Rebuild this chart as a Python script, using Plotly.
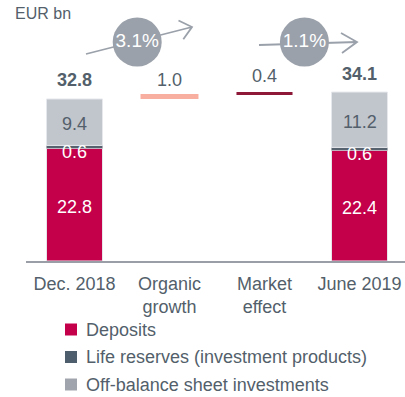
import plotly.graph_objects as go

# Savings volumes, EUR bn
categories = ["Dec. 2018", "Organic<br>growth", "Market<br>effect", "June 2019"]
deposits = [22.8, None, None, 22.4]
life_reserves = [0.6, None, None, 0.6]
off_balance = [9.4, None, None, 11.2]
totals = [32.8, None, None, 34.1]
organic_growth = 1.0
market_effect = 0.4
growth_rates = ["3.1%", "1.1%"]
legend_names = ["Deposits", "Life reserves (investment products)", "Off-balance sheet investments"]

C_DEP = "#C4004A"
C_LIFE = "#56626E"
C_OFF = "#C1C5CC"
C_ORG = "#F9AF9F"
C_MKT = "#8E1838"
C_TXT = "#535F6B"
C_CIRCLE = "#9BA1AA"
FONT = "Liberation Sans, Arial, sans-serif"

W, H = 405, 397
ML, MR, MT, MB = 26, 0, 40, 136
PW, PH = W - ML - MR, H - MT - MB
BASE_Y = MT + PH
PX_PER_UNIT = 4.94
X_RANGE = [-0.5105, 3.479]


def px(x):
    return (x - ML) / PW


def py(y):
    return (BASE_Y - y) / PH


stack_idx = [0, 3]
xs = [categories[i] for i in stack_idx]
dep = [deposits[i] for i in stack_idx]
life = [life_reserves[i] for i in stack_idx]
off = [off_balance[i] for i in stack_idx]
life_base = dep
off_base = [d + l for d, l in zip(dep, life)]

bw = 0.59
line = dict(color="#E6E8EC", width=1)
fig = go.Figure()
fig.add_trace(go.Bar(x=xs, y=dep, base=[0, 0], marker=dict(color=C_DEP, line=line), width=bw,
                     name=legend_names[0], showlegend=False))
fig.add_trace(go.Bar(x=xs, y=life, base=life_base, marker=dict(color=C_LIFE, line=dict(width=0)), width=bw,
                     name=legend_names[1], showlegend=False))
fig.add_trace(go.Bar(x=xs, y=off, base=off_base, marker=dict(color=C_OFF, line=line), width=bw,
                     name=legend_names[2], showlegend=False))

org_base = totals[0]
mkt_base = totals[0] + organic_growth
fig.add_trace(go.Bar(x=[categories[1]], y=[organic_growth], base=[org_base], width=0.61,
                     marker=dict(color=C_ORG, line=dict(width=0)), showlegend=False))
fig.add_trace(go.Bar(x=[categories[2]], y=[market_effect], base=[mkt_base], width=0.59,
                     marker=dict(color=C_MKT, line=dict(width=0)), showlegend=False))

# growth-rate bubbles, drawn over the arrows
bubble_x = [0.66, 2.42]
bubble_y = (BASE_Y - 42) / PX_PER_UNIT
fig.add_trace(go.Scatter(
    x=bubble_x, y=[bubble_y] * 2, xaxis="x2", mode="markers+text", text=growth_rates,
    textposition="middle center", cliponaxis=False, showlegend=False, hoverinfo="skip",
    marker=dict(size=49, color=C_CIRCLE, line=dict(width=0)),
    textfont=dict(size=19, family=FONT, color="white"),
))

ann = []
lab = dict(size=18, family=FONT)
for k, i in enumerate(stack_idx):
    c = categories[i]
    ann.append(dict(x=c, y=dep[k] / 2, text=f"{dep[k]:.1f}", showarrow=False,
                    font=dict(color="white", **lab), yshift=-2))
    ann.append(dict(x=c, y=life_base[k] + life[k] / 2, text=f"{life[k]:.1f}", showarrow=False,
                    font=dict(color="white", **lab), yshift=-5))
    ann.append(dict(x=c, y=off_base[k] + off[k] / 2, text=f"{off[k]:.1f}", showarrow=False,
                    font=dict(color=C_TXT, **lab), yshift=-2))
    ann.append(dict(x=c, y=totals[i], text=f"<b>{totals[i]:.1f}</b>", showarrow=False,
                    font=dict(color=C_TXT, **lab), yshift=19))
ann.append(dict(x=categories[1], y=org_base + organic_growth, text=f"{organic_growth:.1f}",
                showarrow=False, font=dict(color=C_TXT, **lab), yshift=14))
ann.append(dict(x=categories[2], y=mkt_base + market_effect, text=f"{market_effect:.1f}",
                showarrow=False, font=dict(color=C_TXT, **lab), yshift=16))

# unit label
ann.append(dict(xref="paper", yref="paper", x=px(13), y=py(14), xanchor="left", yanchor="middle",
                text="EUR bn", showarrow=False, font=dict(size=16, family=FONT, color=C_TXT)))

shapes = []
# growth arrows
arrow_line = dict(color=C_CIRCLE, width=1.8)
for (tail, tip, a1, a2) in [((86, 54), (192, 27), (178.5, 20.5), (183.3, 39.2)),
                            ((259, 45), (357, 42), (341, 33), (342, 53))]:
    path = (f"M{px(tail[0])},{py(tail[1])} L{px(tip[0])},{py(tip[1])} "
            f"M{px(a1[0])},{py(a1[1])} L{px(tip[0])},{py(tip[1])} L{px(a2[0])},{py(a2[1])}")
    shapes.append(dict(type="path", xref="paper", yref="paper", path=path, line=arrow_line,
                       fillcolor="rgba(0,0,0,0)", layer="below"))

# legend
leg_colors = [C_DEP, "#4F5E6C", "#A0A5AD"]
for k, (name, col) in enumerate(zip(legend_names, leg_colors)):
    yc = 329.5 + 27.5 * k
    shapes.append(dict(type="rect", xref="paper", yref="paper",
                       x0=px(65), x1=px(77), y0=py(yc + 6), y1=py(yc - 6),
                       fillcolor=col, line=dict(width=0)))
    ann.append(dict(xref="paper", yref="paper", x=px(84), y=py(yc), xanchor="left",
                    yanchor="middle", text=name, showarrow=False,
                    font=dict(size=18, family=FONT, color=C_TXT)))

fig.update_layout(
    width=W, height=H,
    margin=dict(l=ML, r=MR, t=MT, b=MB),
    paper_bgcolor="white", plot_bgcolor="rgba(0,0,0,0)",
    barmode="overlay",
    showlegend=False,
    annotations=ann,
    shapes=shapes,
    font=dict(family=FONT, color=C_TXT),
    xaxis2=dict(overlaying="x", anchor="y", range=X_RANGE, visible=False, showgrid=False,
                zeroline=False),
)
fig.layout.xaxis.update(type="category", categoryorder="array", categoryarray=categories,
                        range=X_RANGE, showline=True, linecolor="#9A9EA6", linewidth=2,
                        ticks="", showgrid=False, zeroline=False, ticklabelstandoff=5,
                        tickfont=dict(size=18, family=FONT, color=C_TXT))
fig.update_yaxes(range=[0, PH / PX_PER_UNIT], visible=False, showgrid=False, zeroline=False)

fig.write_html("out.html")
